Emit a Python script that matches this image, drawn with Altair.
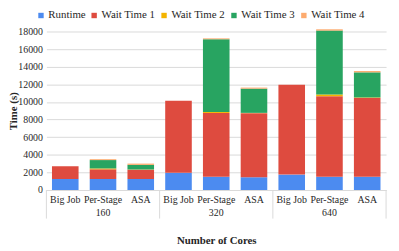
import altair as alt
import pandas as pd

groups = ["160", "320", "640"]
methods = ["Big Job", "Per-Stage", "ASA"]
series = ["Runtime", "Wait Time 1", "Wait Time 2", "Wait Time 3", "Wait Time 4"]
colors = ["#4c8bf0", "#de4b3f", "#f4b400", "#28a461", "#fdab6f"]

# values per bar in order: 160 (Big Job, Per-Stage, ASA), 320 (...), 640 (...)
runtime = [1250, 1250, 1250, 1950, 1500, 1450, 1750, 1500, 1500]
wait1 = [1450, 1100, 1050, 8200, 7250, 7280, 10200, 9150, 8950]
wait2 = [0, 100, 30, 0, 120, 30, 0, 200, 60]
wait3 = [0, 950, 520, 0, 8250, 2750, 0, 7250, 2850]
wait4 = [0, 100, 150, 0, 100, 120, 0, 150, 150]

keys = [f"{g}|{m}" for g in groups for m in methods]
rows = []
for si, (name, vals) in enumerate(zip(series, [runtime, wait1, wait2, wait3, wait4])):
    for k, v in zip(keys, vals):
        rows.append({"key": k, "series": name, "value": v, "idx": si})
df = pd.DataFrame(rows)

W, H = 345, 161
FONT = "Times New Roman, Liberation Serif, serif"
TXT = "#262626"
xscale = alt.Scale(domain=keys, paddingInner=0, paddingOuter=0)
xaxis = alt.Axis(labelExpr="split(datum.label,'|')[1]", labelAngle=0,
                 ticks=False, domainColor="#d9d9d9", labelPadding=5,
                 labelFont=FONT, labelFontSize=10, labelColor=TXT,
                 title="Number of Cores", titleFont=FONT, titleFontSize=11,
                 titleFontWeight="bold", titleColor=TXT, titlePadding=30)


def xenc(**kw):
    return alt.X("key:N", sort=keys, scale=xscale, axis=xaxis, **kw)


bars = alt.Chart(df).mark_bar(size=27).encode(
    x=xenc(),
    y=alt.Y("value:Q", stack="zero",
            scale=alt.Scale(domain=[0, 18000], nice=False),
            axis=alt.Axis(values=list(range(0, 18001, 2000)), format="d",
                          gridColor="#d9d9d9", domain=False, ticks=False,
                          labelFont=FONT, labelFontSize=10, labelColor=TXT,
                          labelPadding=4,
                          title="Time (s)", titleFont=FONT, titleFontSize=11,
                          titleFontWeight="bold", titleColor=TXT,
                          titleX=-39, titleY=H / 2, titleBaseline="top",
                          titleAngle=270)),
    color=alt.Color("series:N", scale=alt.Scale(domain=series, range=colors),
                    legend=alt.Legend(title=None, orient="none", direction="horizontal",
                                      columns=5, legendX=-11, legendY=-22,
                                      symbolType="square", symbolSize=30,
                                      symbolStrokeWidth=0, labelOffset=2,
                                      columnPadding=3,
                                      labelFont=FONT, labelFontSize=11,
                                      labelColor=TXT)),
    order=alt.Order("idx:Q"),
)

group_df = pd.DataFrame({"key": [f"{g}|Per-Stage" for g in groups], "label": groups})
group_text = alt.Chart(group_df).mark_text(font=FONT, fontSize=10, color=TXT,
                                           baseline="middle").encode(
    x=xenc(),
    y=alt.value(H + 23),
    text="label:N",
)

left_df = pd.DataFrame({"key": [keys[0]]})
right_df = pd.DataFrame({"key": [f"{g}|ASA" for g in groups]})
left_rule = alt.Chart(left_df).mark_rule(color="#d9d9d9", strokeWidth=1).encode(
    x=xenc(bandPosition=0),
    y=alt.value(H), y2=alt.value(H + 29),
)
right_rule = alt.Chart(right_df).mark_rule(color="#d9d9d9", strokeWidth=1).encode(
    x=xenc(bandPosition=1),
    y=alt.value(H), y2=alt.value(H + 29),
)

chart = alt.layer(bars, left_rule, right_rule, group_text).properties(
    width=W, height=H,
    autosize=alt.AutoSizeParams(type="none"),
    padding={"left": 39, "top": 22, "right": 5, "bottom": 55},
).configure(font=FONT).configure_view(stroke=None)

chart.save("out.html", embed_options={"renderer": "svg", "actions": False})
